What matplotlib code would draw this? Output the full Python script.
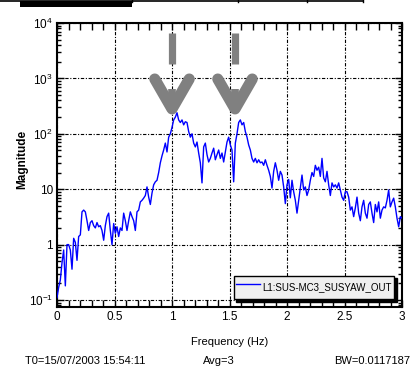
import numpy as np
import matplotlib
matplotlib.use('Agg')
import matplotlib.pyplot as plt
from matplotlib.ticker import FixedLocator, FixedFormatter, LogLocator, MultipleLocator, NullFormatter
from matplotlib.patches import Rectangle
from matplotlib.lines import Line2D
from matplotlib import font_manager as fm

# ---------------- data ----------------
magnitude = [
    0.11, 0.17, 0.23, 0.47, 0.8, 0.18, 1.0, 1.0, 0.8, 0.36,
    1.3, 1.1, 0.52, 1.4, 1.5, 3.9, 4.2, 3.9, 2.7, 1.8,
    2.5, 2.7, 2.2, 2.0, 2.5, 2.1, 2.2, 1.8, 1.2, 2.2,
    3.2, 3.7, 1.8, 1.0, 2.4, 1.6, 2.1, 1.4, 2.0, 1.8,
    3.7, 2.7, 1.8, 2.7, 3.9, 3.2, 2.7, 1.8, 3.9, 4.2,
    5.9, 6.3, 6.9, 7.7, 11, 7.2, 5.3, 8.5, 12, 13.6,
    14.5, 20, 30, 40, 51, 68, 47, 87, 100, 130,
    178, 200, 240, 178, 160, 178, 145, 165, 160, 110,
    87, 100, 68, 58, 71, 45, 30, 13, 58, 68,
    42, 31, 36, 45, 55, 34, 42, 51, 36, 45,
    31, 47, 71, 87, 63, 51, 13.6, 68, 100, 160,
    178, 145, 160, 110, 87, 63, 51, 36, 31, 36,
    30, 34, 30, 31, 27, 34, 27, 22, 17, 10.5,
    21, 30, 22, 14.5, 21, 18, 11, 5.5, 12, 15,
    7, 14.5, 9, 6.3, 3.7, 6.3, 10.5, 18, 9.7, 11,
    7.7, 9.7, 14.5, 20, 17, 27, 22, 25, 17, 36,
    16, 13.6, 21, 12, 7.7, 13, 11, 12, 10.5, 13,
    9.7, 7.2, 6.3, 9, 9, 7.2, 4.2, 4.8, 3.2, 4.6,
    7.2, 3.7, 2.7, 4.8, 6.3, 3.7, 3.0, 5.3, 5.9, 3.7,
    2.5, 5.3, 3.9, 5.9, 3.0, 4.2, 4.8, 4.6, 6.3, 9.7,
    4.8, 5.9, 6.9, 4.8, 3.0, 2.1, 3.2, 3.0,
]
freq = np.linspace(0.0, 3.0, len(magnitude))

x_ticks = [0, 0.5, 1, 1.5, 2, 2.5, 3]
x_tick_labels = ['0', '0.5', '1', '1.5', '2', '2.5', '3']
y_ticks = [0.1, 1, 10, 100, 1000, 10000]
y_tick_labels = [r'$10^{-1}$', '1', '10', r'$10^{2}$', r'$10^{3}$', r'$10^{4}$']
series_label = 'L1:SUS-MC3_SUSYAW_OUT'
x_label = 'Frequency (Hz)'
y_label = 'Magnitude'
footer_texts = ['T0=15/07/2003 15:54:11', 'Avg=3', 'BW=0.0117187']
arrow_freqs = [1.0, 1.548]

# ---------------- style ----------------
names = {f.name for f in fm.fontManager.ttflist}
if 'Liberation Sans Narrow' in names:
    plt.rcParams['font.family'] = ['Liberation Sans Narrow', 'DejaVu Sans']
    narrow = True
else:
    plt.rcParams['font.family'] = ['Liberation Sans', 'DejaVu Sans']
    narrow = False
plt.rcParams['mathtext.default'] = 'regular'
fs = 9 if narrow else 8
fs_leg = 8 if narrow else 7

W, H = 412, 389
fig = plt.figure(figsize=(W / 100, H / 100), dpi=100)
fig.patch.set_facecolor('white')

ax = fig.add_axes([57 / W, 1 - 307 / H, 345 / W, 284 / H])
ax.set_yscale('log')
ax.plot(freq, magnitude, color='#0000ff', lw=1.0, label=series_label, zorder=3)
ax.set_xlim(0, 3)
ax.set_ylim(0.0748, 1e4)

ax.xaxis.set_major_locator(FixedLocator(x_ticks))
ax.xaxis.set_major_formatter(FixedFormatter(x_tick_labels))
ax.xaxis.set_minor_locator(MultipleLocator(0.1))
ax.yaxis.set_major_locator(FixedLocator(y_ticks))
ax.yaxis.set_major_formatter(FixedFormatter(y_tick_labels))
ax.yaxis.set_minor_locator(LogLocator(base=10, subs=np.arange(2, 10), numticks=20))
ax.yaxis.set_minor_formatter(NullFormatter())

ax.grid(True, which='major', color='black', lw=0.8, linestyle=(0, (3, 1.5, 1, 1.5)))
ax.tick_params(which='both', direction='in', top=True, right=True, width=1.0, color='black')
ax.tick_params(axis='x', which='both', length=5)
ax.tick_params(axis='y', which='major', length=5)
ax.tick_params(axis='y', which='minor', length=3)
ax.tick_params(axis='both', which='major', labelsize=fs + 0.5, pad=3)
for s in ax.spines.values():
    s.set_linewidth(1.5)
    s.set_color('black')

ax.set_xlabel(x_label, fontsize=fs, labelpad=10)
ax.set_ylabel(y_label, fontsize=fs + 0.5, fontweight='bold')
ax.yaxis.set_label_coords(-0.082, 0.52)

# ---------------- gray arrow annotations ----------------
gray = '#808080'
for f0 in arrow_freqs:
    ax.plot([f0, f0], [6600, 1820], color=gray, lw=5.2, solid_capstyle='butt', zorder=4)
    ax.plot([f0 - 0.15, f0, f0 + 0.15], [975, 281, 975], color=gray, lw=8,
            solid_capstyle='round', solid_joinstyle='round', zorder=4)
    ax.plot([f0, f0], [645, 281], color=gray, lw=5.5, solid_capstyle='butt', zorder=4)

# ---------------- legend ----------------
leg = ax.legend(loc='lower right', bbox_to_anchor=(0.977, 0.028), borderaxespad=0,
                fontsize=fs_leg, handlelength=2.5, handletextpad=0.3, borderpad=0.2,
                handleheight=2.7, fancybox=False, framealpha=1, facecolor='#efefef',
                edgecolor='black', shadow={'color': 'black', 'alpha': 1})
leg.get_frame().set_linewidth(1.0)

# ---------------- footer ----------------
fy = 1 - 361 / H
fig.text(25 / W, fy, footer_texts[0], fontsize=fs, va='center', ha='left')
fig.text(203 / W, fy, footer_texts[1], fontsize=fs, va='center', ha='left')
fig.text(410 / W, fy, footer_texts[2], fontsize=fs, va='center', ha='right')

# ---------------- cut-off panel at the top ----------------
fig.add_artist(Line2D([0, 363 / W], [1 - 1 / H, 1 - 1 / H], color='black', lw=1.2,
                      transform=fig.transFigure))
for xv in [132, 238, 307, 363]:
    fig.add_artist(Line2D([xv / W, xv / W], [1, 1 - 1.5 / H], color='black', lw=1.0,
                          transform=fig.transFigure))
fig.add_artist(Rectangle((20 / W, 1 - 6.5 / H), 112 / W, 5 / H, facecolor='black',
                         edgecolor='none', transform=fig.transFigure))

fig.savefig('out.png', dpi=100)
